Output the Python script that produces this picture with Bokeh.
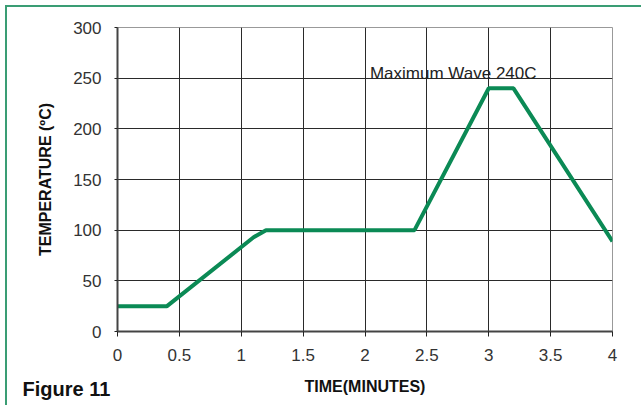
from bokeh.plotting import figure
from bokeh.models import Range1d, FixedTicker, Label, Title
from bokeh.embed import file_html
from bokeh.resources import INLINE

# data
time_min = [0, 0.4, 1.1, 1.2, 2.4, 3.0, 3.2, 4.0]
temp_c = [25, 25, 93, 100, 100, 240, 240, 89]
x_ticks = [0, 0.5, 1, 1.5, 2, 2.5, 3, 3.5, 4]
x_tick_labels = ["0", "0.5", "1", "1.5", "2", "2.5", "3", "3.5", "4"]
y_ticks = [0, 50, 100, 150, 200, 250, 300]
annotation_text = "Maximum Wave 240C"
figure_title = "Figure 11"

FONT = "Liberation Sans"
GREEN_LINE = "#0b8a55"
BORDER = "#3a9d74"

p = figure(width=636, height=400, output_backend="svg", toolbar_location=None,
           x_range=Range1d(0, 4), y_range=Range1d(0, 300),
           min_border_left=110, min_border_right=31, min_border_top=20, min_border_bottom=76)
p.styles = {"border-left": f"2px solid {BORDER}", "border-top": f"2px solid {BORDER}",
            "margin-left": "5px", "margin-top": "5px"}
p.background_fill_color = "white"
p.border_fill_color = "white"
p.outline_line_color = "#999999"
p.outline_line_width = 1

# grid
p.xgrid.ticker = FixedTicker(ticks=x_ticks)
p.ygrid.ticker = FixedTicker(ticks=y_ticks)
p.xgrid.grid_line_color = "#2a2a2a"
p.ygrid.grid_line_color = "#2a2a2a"
p.xgrid.grid_line_width = 1
p.ygrid.grid_line_width = 1

# axes
p.xaxis.ticker = FixedTicker(ticks=x_ticks)
p.xaxis.major_label_overrides = {t: l for t, l in zip(x_ticks, x_tick_labels)}
p.yaxis.ticker = FixedTicker(ticks=y_ticks)
for ax in (p.xaxis[0], p.yaxis[0]):
    ax.axis_line_color = "#444444"
    ax.axis_line_width = 2
    ax.major_tick_line_color = "#222222"
    ax.major_tick_line_width = 1
    ax.major_tick_in = 0
    ax.minor_tick_line_color = None
    ax.major_label_text_font = FONT
    ax.major_label_text_font_size = "17px"
    ax.major_label_text_color = "#333333"
    ax.axis_label_text_font = FONT
    ax.axis_label_text_font_size = "16px"
    ax.axis_label_text_font_style = "bold"
    ax.axis_label_text_color = "#111111"
p.xaxis.major_tick_out = 5
p.yaxis.major_tick_out = 3
p.xaxis.major_label_standoff = 12
p.yaxis.major_label_standoff = 13
p.xaxis.axis_label = "TIME(MINUTES)"
p.yaxis.axis_label = "TEMPERATURE (ºC)"
p.xaxis.axis_label_standoff = 14
p.yaxis.axis_label_standoff = 16

p.line(time_min, temp_c, line_color=GREEN_LINE, line_width=4)

p.add_layout(Label(x=2.04, y=255, text=annotation_text, text_font=FONT,
                   text_font_size="17px", text_color="#222222", text_baseline="alphabetic"))
p.add_layout(Title(text=figure_title, align="left", vertical_align="top", offset=-95, standoff=-40,
                   text_font=FONT, text_font_size="20px", text_font_style="bold",
                   text_color="#111111"), "below")

open("out.html", "w").write(file_html(p, INLINE))
